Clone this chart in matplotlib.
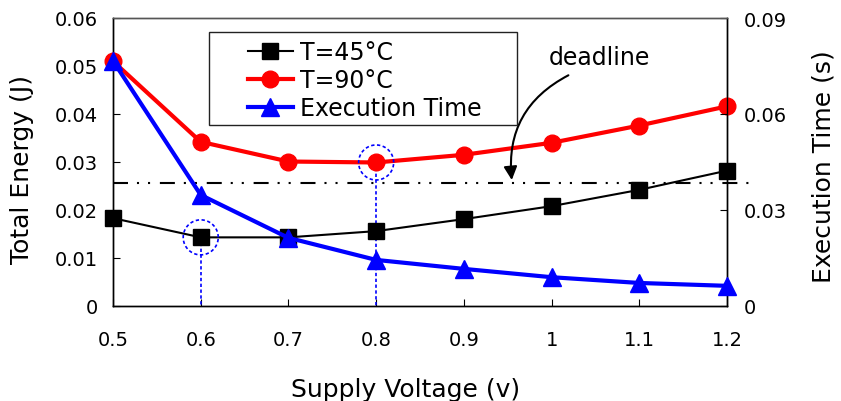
import numpy as np
import matplotlib
matplotlib.use("Agg")
import matplotlib.pyplot as plt
from matplotlib.patches import Rectangle

plt.rcParams['font.family'] = ['DejaVu Sans']

voltage = [0.5, 0.6, 0.7, 0.8, 0.9, 1.0, 1.1, 1.2]
energy_45 = [0.0183, 0.0143, 0.0143, 0.0156, 0.0181, 0.0208, 0.0242, 0.0282]
energy_90 = [0.0510, 0.0342, 0.0301, 0.0299, 0.0315, 0.0340, 0.0376, 0.0416]
exec_time = [0.0766, 0.0347, 0.0213, 0.0144, 0.0116, 0.0090, 0.0072, 0.0063]
deadline = 0.0385          # seconds, on the right axis
marked = [(0.6, 0.0143), (0.8, 0.0299)]   # chosen operating points

fig = plt.figure(figsize=(8.41, 4.02), dpi=100)
ax = fig.add_axes([113 / 841, 95 / 402, 614 / 841, 288 / 402])
ax2 = ax.twinx()

ax.plot(voltage, energy_45, color='black', lw=1.5, marker='s', ms=12,
        label='T=45°C', zorder=3, clip_on=False)
ax.plot(voltage, energy_90, color='#ff0000', lw=3, marker='o', ms=12,
        label='T=90°C', zorder=3, clip_on=False)
ax2.plot(voltage, exec_time, color='#0000ff', lw=3, marker='^', ms=13,
         label='Execution Time', zorder=3, clip_on=False)

# deadline line (dash-dot-dot), runs a bit past the right spine
ax2.plot([voltage[0], 1.225], [deadline, deadline], color='black', lw=1.5,
         dashes=[7.2, 4.3, 1.0, 4.3, 1.0, 4.7], clip_on=False, zorder=2)

# dotted circles and drop lines (circle radius ~17 px)
t = np.linspace(0, 2 * np.pi, 120)
rx, ry = 17.5 / 877, 17.5 / 4800
for vx, vy in marked:
    ax.plot([vx, vx], [vy, 0], color='#0000ff', lw=1.2, dashes=[2, 1.5],
            zorder=2.5)
    ax.plot(vx + rx * np.cos(t), vy + ry * np.sin(t),
            color='#0000ff', lw=1.2, dashes=[2, 1.5], zorder=4)

ax.set_xlim(0.5, 1.2)
ax.set_ylim(0, 0.06)
ax2.set_ylim(0, 0.09)
ax.set_xticks(voltage)
ax.set_xticklabels(['0.5', '0.6', '0.7', '0.8', '0.9', '1', '1.1', '1.2'])
ax.set_yticks([0, 0.01, 0.02, 0.03, 0.04, 0.05, 0.06])
ax.set_yticklabels(['0', '0.01', '0.02', '0.03', '0.04', '0.05', '0.06'])
ax2.set_yticks([0, 0.03, 0.06, 0.09])
ax2.set_yticklabels(['0', '0.03', '0.06', '0.09'])

ax.tick_params(axis='x', direction='in', length=5, pad=17, labelsize=14)
ax.tick_params(axis='y', direction='in', length=5, pad=11, labelsize=14)
ax2.tick_params(axis='y', direction='in', length=5, pad=12, labelsize=14)
for a in (ax, ax2):
    for s in a.spines.values():
        s.set_linewidth(1.0)
    a.spines['top'].set_color('#555555')

ax.set_xlabel('Supply Voltage (v)', fontsize=18)
ax.set_ylabel('Total Energy (J)', fontsize=18)
ax2.set_ylabel('Execution Time (s)', fontsize=18, rotation=90)
ax.xaxis.set_label_coords(406 / 841, 12 / 402, transform=fig.transFigure)
ax.yaxis.set_label_coords(22 / 841, 233 / 402, transform=fig.transFigure)
ax2.yaxis.set_label_coords(824 / 841, 235 / 402, transform=fig.transFigure)
ax.xaxis.label.set_va('center')
ax.yaxis.label.set_va('center')
ax2.yaxis.label.set_va('center')

ax2.annotate('', xy=(0.955, deadline), xytext=(1.022, 0.0725),
             arrowprops=dict(arrowstyle='-|>', color='black', lw=1.5,
                             mutation_scale=20,
                             connectionstyle='arc3,rad=0.35'))
ax2.text(1.055, 0.0778, 'deadline', fontsize=17, ha='center', va='center')

# legend box is wider than its contents, so draw the frame by hand
frame = Rectangle((209 / 841, 1 - 126 / 402), 308 / 841, 93 / 402,
                  transform=fig.transFigure, facecolor='white',
                  edgecolor='#222222', lw=1.0, zorder=5)
ax2.add_artist(frame)
h1, l1 = ax.get_legend_handles_labels()
h2, l2 = ax2.get_legend_handles_labels()
leg = ax2.legend(h1 + h2, l1 + l2, loc='upper left',
                 bbox_to_anchor=(248 / 841, 1 - 41 / 402),
                 bbox_transform=fig.transFigure, fontsize=17,
                 frameon=False, handlelength=1.9, borderpad=0,
                 labelspacing=0.18, handletextpad=0.3, borderaxespad=0)
leg.set_zorder(6)

fig.savefig('out.png', dpi=100)
